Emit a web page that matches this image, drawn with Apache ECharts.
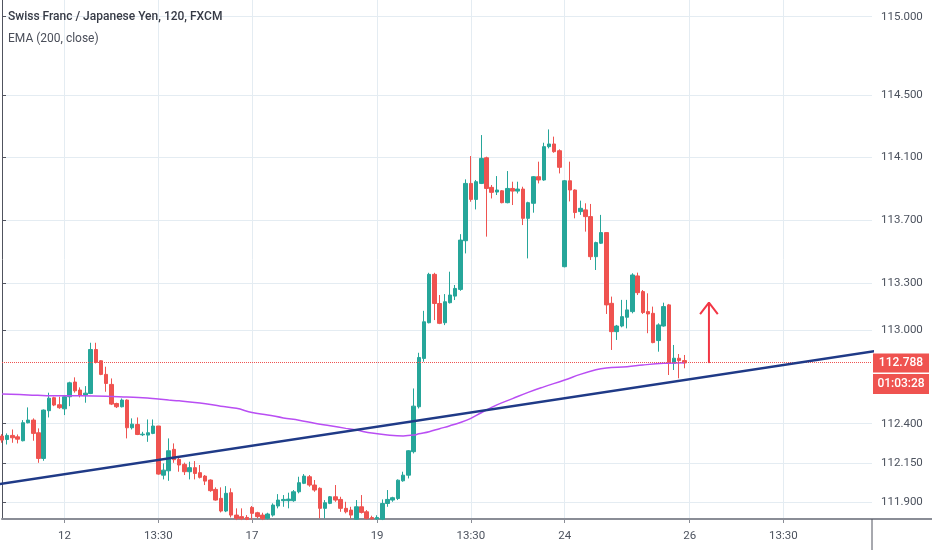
<!DOCTYPE html>
<html><head><meta charset="utf-8">
<script src="https://cdn.jsdelivr.net/npm/echarts/dist/echarts.min.js"></script>
<style>html,body{margin:0;padding:0;background:#fff}#c{width:932px;height:550px}</style>
</head><body><div id="c"></div>
<script>
// ---------- data ----------
const slotCount = 168;                       // 2h slots shown on the time axis (incl. empty future)
const tickIdx  = [12, 30, 48, 72, 90, 108, 132, 150];
const tickText = ['12', '13:30', '17', '19', '13:30', '24', '26', '13:30'];
const yTicks   = [111.9, 112.15, 112.4, 113.0, 113.3, 113.7, 114.1, 114.5, 115.0];

const open = [112.321,112.299,112.325,112.316,112.291,112.406,112.423,112.342,112.178,112.483,
112.566,112.521,112.495,112.572,112.666,112.615,112.583,112.593,112.874,112.802,
112.715,112.651,112.529,112.508,112.551,112.374,112.395,112.329,112.327,112.338,
112.385,112.071,112.099,112.236,112.172,112.140,112.093,112.119,112.087,112.065,
112.040,111.980,111.923,111.842,111.959,111.816,111.806,111.801,111.865,111.831,
111.816,111.795,111.816,111.874,111.908,111.908,111.908,111.965,112.019,112.061,
112.008,111.987,111.859,111.891,111.933,111.916,111.859,111.848,111.790,111.869,
111.837,111.800,111.792,111.790,111.890,111.912,111.922,112.035,112.071,112.221,
112.508,112.817,113.045,113.354,113.168,113.045,113.173,113.215,113.258,113.569,
113.935,113.833,113.935,114.099,113.910,113.880,113.888,113.812,113.903,113.886,
113.899,113.712,113.808,113.978,113.957,114.170,114.187,114.144,113.403,113.952,
113.893,113.755,113.766,113.723,113.467,113.553,113.621,113.169,112.988,113.024,
113.080,113.116,113.344,113.244,113.116,113.105,112.931,113.024,113.159,112.786,
112.818,112.803];
const high = [112.333,112.338,112.363,112.331,112.423,112.504,112.434,112.370,112.491,112.598,
112.572,112.572,112.583,112.668,112.696,112.632,112.640,112.917,112.917,112.806,
112.764,112.689,112.534,112.561,112.555,112.434,112.440,112.348,112.427,112.427,
112.385,112.146,112.306,112.274,112.189,112.151,112.157,112.161,112.136,112.072,
112.044,111.993,111.993,112.001,111.987,111.859,111.859,111.816,111.874,111.837,
111.831,111.831,111.891,111.950,111.944,111.959,111.976,112.061,112.078,112.072,
112.040,111.993,111.912,111.938,112.008,111.933,111.901,111.869,111.912,111.944,
111.848,111.812,111.815,111.916,111.976,111.933,112.044,112.093,112.231,112.625,
112.853,113.121,113.364,113.364,113.222,113.228,113.371,113.286,113.611,113.961,
114.110,113.957,114.244,114.106,113.925,113.982,113.893,114.014,113.946,113.946,
113.914,113.818,113.982,114.074,114.195,114.280,114.234,114.153,113.957,114.074,
113.897,113.825,113.808,113.804,113.563,113.734,113.621,113.212,113.031,113.191,
113.191,113.361,113.365,113.254,113.233,113.148,113.041,113.173,113.165,112.903,
112.845,112.839];
const low = [112.278,112.267,112.278,112.274,112.287,112.402,112.291,112.150,112.163,112.440,
112.512,112.495,112.455,112.512,112.598,112.568,112.534,112.589,112.785,112.710,
112.604,112.519,112.500,112.504,112.306,112.363,112.327,112.321,112.284,112.333,
112.074,112.044,112.035,112.150,112.093,112.072,112.044,112.044,112.050,112.008,
111.965,111.908,111.833,111.835,111.801,111.784,111.784,111.784,111.788,111.795,
111.784,111.788,111.806,111.859,111.869,111.859,111.901,111.955,112.014,111.997,
111.965,111.795,111.795,111.886,111.901,111.837,111.827,111.795,111.788,111.826,
111.788,111.786,111.786,111.784,111.869,111.901,111.912,112.029,112.050,112.210,
112.497,112.796,113.041,113.062,113.036,113.030,113.168,113.190,113.249,113.488,
113.818,113.769,113.931,113.595,113.839,113.861,113.808,113.808,113.797,113.871,
113.669,113.456,113.748,113.935,113.952,114.159,114.131,113.999,113.399,113.820,
113.712,113.734,113.627,113.446,113.382,113.548,113.101,112.871,112.935,113.016,
113.009,113.105,113.222,113.101,112.978,112.914,112.860,113.020,112.711,112.743,
112.690,112.754];
const close = [112.295,112.325,112.310,112.301,112.406,112.423,112.338,112.178,112.487,112.563,
112.519,112.502,112.572,112.661,112.610,112.581,112.595,112.874,112.791,112.715,
112.657,112.525,112.508,112.551,112.374,112.397,112.331,112.333,112.342,112.385,
112.078,112.103,112.227,112.170,112.136,112.093,112.119,112.082,112.057,112.033,
111.972,111.912,111.842,111.955,111.816,111.795,111.793,111.788,111.827,111.806,
111.793,111.823,111.880,111.912,111.916,111.918,111.965,112.023,112.065,112.008,
111.976,111.859,111.895,111.933,111.912,111.859,111.837,111.816,111.869,111.833,
111.795,111.792,111.800,111.890,111.916,111.927,112.039,112.071,112.227,112.512,
112.823,113.051,113.354,113.168,113.041,113.179,113.222,113.264,113.573,113.935,
113.833,113.946,114.095,113.903,113.878,113.893,113.812,113.903,113.886,113.899,
113.712,113.812,113.978,113.957,114.170,114.187,114.138,114.038,113.952,113.893,
113.749,113.776,113.723,113.467,113.557,113.621,113.159,112.988,113.024,113.084,
113.127,113.350,113.237,113.110,113.101,112.918,113.031,113.148,112.786,112.818,
112.803,112.788];

// EMA(200) readings: slot index and value
const emaIdx = [0,5,10,15,20,24,27,30,32,34,38,42,45,48,51,54,57,60,63,66,68,71,74,77,79,80,82,84,86,88,90,92,95,98,101,104,108,111,114,116,120,123,127,131];
const emaVal = [112.590,112.584,112.578,112.578,112.576,112.570,112.566,112.557,112.551,112.546,112.532,112.512,112.498,112.472,112.456,112.437,112.422,112.403,112.387,112.370,112.359,112.340,112.328,112.322,112.327,112.335,112.349,112.368,112.387,112.408,112.434,112.470,112.520,112.560,112.600,112.635,112.679,112.715,112.744,112.755,112.764,112.775,112.786,112.790];

// hand-drawn trend line (two anchor points) and arrow
const trendX = [-1, 168];
const trendY = [112.011, 112.866];
const arrowShaftX = [135.7, 135.7];
const arrowShaftY = [112.787, 113.173];
const arrowHeadX = [134.0, 135.7, 137.4];
const arrowHeadY = [113.100, 113.173, 113.100];

const lastPrice = 112.788;
const countdown = '01:03:28';
const titleText = 'Swiss Franc / Japanese Yen, 120, FXCM';
const studyText = 'EMA (200, close)';

// ---------- chart ----------
const UP = '#26a69a', DOWN = '#ef5350', GRID = '#e4ecf2';
const slots = Array.from({length: slotCount}, (_, i) => String(i));
const isTick = (i) => tickIdx.indexOf(i) >= 0;
const candles = open.map((o, i) => [o, close[i], low[i], high[i]]);
const pairs = (xs, ys) => xs.map((x, i) => [x, ys[i]]);

const chart = echarts.init(document.getElementById('c'));
chart.setOption({
  animation: false,
  backgroundColor: '#fff',
  title: [
    {text: titleText, left: 3, top: 6, textStyle: {fontFamily: 'Roboto', fontSize: 12, fontWeight: 500, color: '#363a45'}},
    {text: studyText, left: 3, top: 28, textStyle: {fontFamily: 'Roboto', fontSize: 12, fontWeight: 'normal', color: '#4a4e59'}}
  ],
  grid: {left: 2, right: 60, top: 0, bottom: 31},
  xAxis: [{
    type: 'category', data: slots, boundaryGap: false,
    axisLine: {lineStyle: {color: '#8a8d96', width: 2}},
    axisTick: {show: true, interval: (i) => isTick(i), length: 4, lineStyle: {color: '#8a8d96'}},
    axisLabel: {interval: (i) => isTick(i), formatter: (v, i) => tickText[tickIdx.indexOf(i)],
      color: '#4c525e', fontFamily: 'Roboto', fontSize: 11.5, margin: 11},
    splitLine: {show: true, interval: (i) => isTick(i), lineStyle: {color: GRID}}
  }, {
    type: 'value', min: 0, max: slotCount - 1, show: false
  }],
  yAxis: {
    type: 'value', position: 'right', min: 111.791, max: 115.107, scale: true,
    axisLine: {show: true, lineStyle: {color: '#50535e'}},
    axisTick: {show: true, length: 4, customValues: yTicks, lineStyle: {color: '#50535e'}},
    axisLabel: {customValues: yTicks, formatter: (v) => v.toFixed(3), color: '#4c525e',
      fontFamily: 'Roboto', fontSize: 11.5, margin: 9},
    splitLine: {show: true, lineStyle: {color: GRID}}
  },
  series: [{
    type: 'candlestick', xAxisIndex: 0, data: candles, barWidth: 4,
    itemStyle: {color: UP, color0: DOWN, borderColor: UP, borderColor0: DOWN, borderWidth: 1},
    markLine: {
      silent: true, symbol: 'none', label: {show: false},
      lineStyle: {type: 'dotted', color: DOWN, width: 1},
      data: [{yAxis: lastPrice}]
    },
    z: 3
  }, {
    type: 'line', xAxisIndex: 1, data: pairs(emaIdx, emaVal), smooth: 0.4, symbol: 'none',
    lineStyle: {color: '#b94ef3', width: 1.5}, z: 4
  }, {
    type: 'line', xAxisIndex: 1, data: pairs(trendX, trendY), symbol: 'none', clip: true,
    lineStyle: {color: '#1f3a87', width: 2.5}, z: 5
  }, {
    type: 'line', xAxisIndex: 1, data: pairs(arrowShaftX, arrowShaftY), symbol: 'none',
    lineStyle: {color: '#f23645', width: 2}, z: 5
  }, {
    type: 'line', xAxisIndex: 1, data: pairs(arrowHeadX, arrowHeadY), symbol: 'none',
    lineStyle: {color: '#f23645', width: 2}, z: 5
  }]
});

// price / countdown labels on the price scale, placed through the axis scales
const py = chart.convertToPixel({yAxisIndex: 0}, lastPrice);
const gx = chart.convertToPixel({xAxisIndex: 1}, slotCount - 1);
chart.setOption({
  graphic: [
    {type: 'line', shape: {x1: gx, y1: 519, x2: 932, y2: 519}, style: {stroke: '#8a8d96', lineWidth: 2}, z: 10},
    {type: 'line', shape: {x1: gx, y1: 519, x2: gx, y2: 550}, style: {stroke: '#50535e', lineWidth: 1}, z: 10},
    {type: 'rect', shape: {x: gx + 1, y: py - 9.5, width: 56, height: 19}, style: {fill: DOWN}, z: 10},
    {type: 'text', x: gx + 29, y: py, style: {text: lastPrice.toFixed(3), fill: '#fff', font: '500 12px Roboto', align: 'center', verticalAlign: 'middle'}, z: 11},
    {type: 'rect', shape: {x: gx + 1, y: py + 11, width: 56, height: 20}, style: {fill: DOWN}, z: 10},
    {type: 'text', x: gx + 29, y: py + 21, style: {text: countdown, fill: '#fff', font: '500 12px Roboto', align: 'center', verticalAlign: 'middle'}, z: 11}
  ]
});
</script></body></html>
